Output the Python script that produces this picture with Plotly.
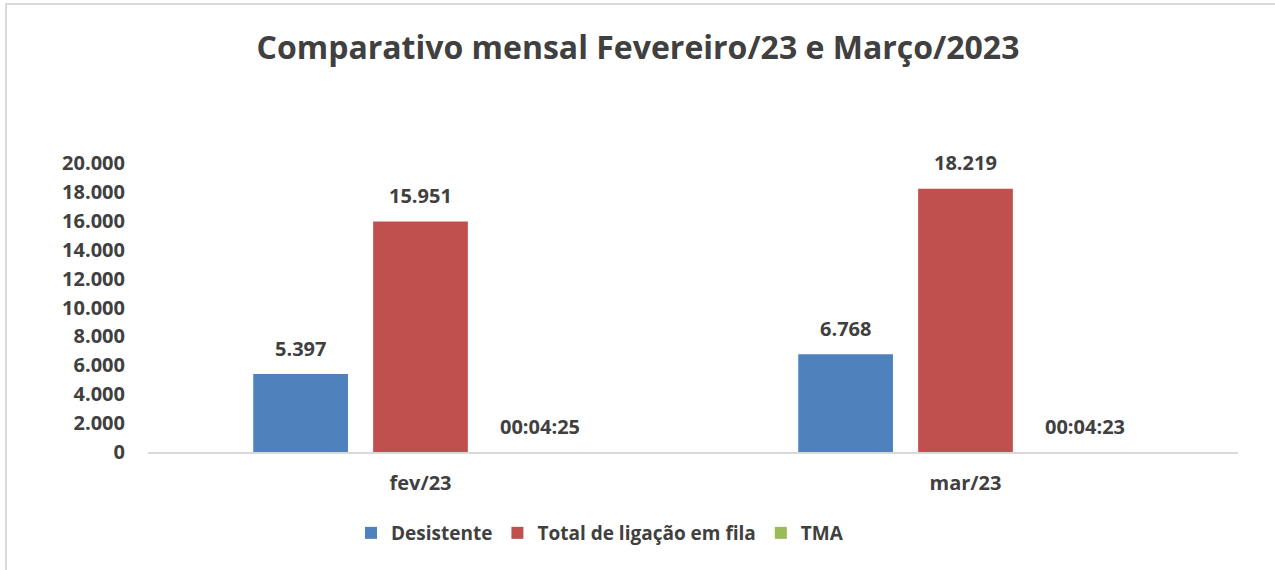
import plotly.graph_objects as go

categorias = ["fev/23", "mar/23"]
desistente = [5397, 6768]
total_fila = [15951, 18219]
tma_segundos = [265, 263]

series_nomes = ["Desistente", "Total de ligação em fila", "TMA"]
cores = ["#4F81BD", "#C0504D", "#9BBB59"]
y_ticks = list(range(0, 20001, 2000))

FONT = "Open Sans"
TXT = "#404040"
BARGAP = 0.34

W, H = 1275, 570
ML, MR, MT, MB = 148, 37, 163, 118


def fmt_num(v):
    return f"{v:,}".replace(",", ".")


def fmt_hms(s):
    return f"{s // 3600:02d}:{(s % 3600) // 60:02d}:{s % 60:02d}"


tma_dias = [s / 86400 for s in tma_segundos]
valores = [desistente, total_fila, tma_dias]
rotulos = [[fmt_num(v) for v in desistente],
           [fmt_num(v) for v in total_fila],
           [fmt_hms(s) for s in tma_segundos]]

fig = go.Figure()
for nome, vals, cor in zip(series_nomes, valores, cores):
    fig.add_trace(go.Bar(x=categorias, y=vals, name=nome,
                         marker=dict(color=cor, line=dict(width=0))))

slot = (1 - BARGAP) / len(series_nomes)
anns = []
for i, (vals, labs) in enumerate(zip(valores, rotulos)):
    for j, (v, lab) in enumerate(zip(vals, labs)):
        anns.append(dict(x=j + (i - 1) * slot, y=v, xref="x", yref="y",
                         text=lab, showarrow=False, yanchor="middle", yshift=26,
                         font=dict(family=FONT, size=20, color=TXT, weight="bold")))

# outer chart border (page coords: left 6, top 4, open to the right/bottom)
w_px = W - ML - MR
h_px = H - MT - MB
border = [dict(type="rect", xref="paper", yref="paper",
               x0=(6 - ML) / w_px, x1=(W + 20 - ML) / w_px,
               y0=-(MB + 30) / h_px, y1=(H - MB - 4) / h_px,
               line=dict(color="#D9D9D9", width=2), fillcolor="rgba(0,0,0,0)",
               layer="below")]

fig.update_layout(
    width=W, height=H,
    margin=dict(l=ML, r=MR, t=MT, b=MB),
    paper_bgcolor="white", plot_bgcolor="white",
    barmode="group", bargap=BARGAP, bargroupgap=0.21,
    separators=",.",
    font=dict(family=FONT, size=20, color=TXT, weight="bold"),
    title=dict(text="Comparativo mensal Fevereiro/23 e Março/2023",
               x=638 / W, xref="container", xanchor="center",
               y=1 - 48 / H, yref="container", yanchor="middle",
               font=dict(family=FONT, size=32, color=TXT, weight="bold")),
    legend=dict(orientation="h", x=600 / W, xanchor="center", xref="container",
                y=1 - 533 / H, yanchor="middle", yref="container",
                font=dict(family=FONT, size=19, color=TXT, weight="bold"),
                traceorder="normal"),
    annotations=anns,
    shapes=border,
)
fig.update_yaxes(range=[0, 20000], tickvals=y_ticks, tickformat=",.0f",
                 showgrid=False, zeroline=False, showline=False, ticks="",
                 ticklabelstandoff=22,
                 tickfont=dict(family=FONT, size=20, color=TXT, weight="bold"))
fig.update_xaxes(showgrid=False, showline=True, linecolor="#D9D9D9", linewidth=2,
                 ticks="", ticklabelstandoff=12,
                 tickfont=dict(family=FONT, size=20, color=TXT, weight="bold"))

fig.write_html("out.html", config={"displayModeBar": False},
               post_script="document.body.style.margin='0px';")
